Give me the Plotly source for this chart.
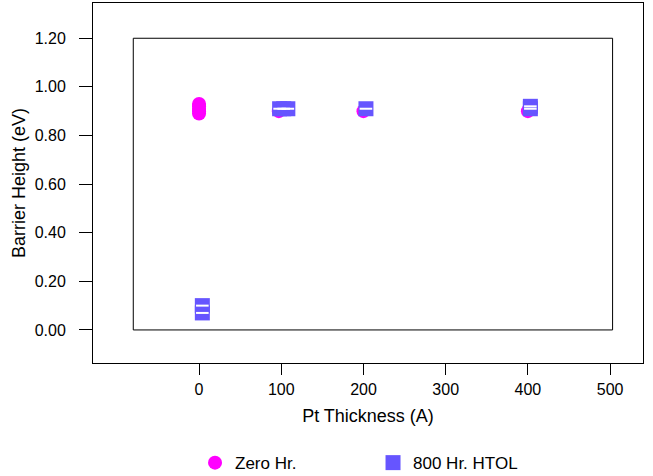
import plotly.graph_objects as go

# Data
zero_x = [0, 0, 0, 0, 0, 97, 100, 200, 400]
zero_y = [0.89, 0.90, 0.91, 0.92, 0.93, 0.90, 0.91, 0.90, 0.90]

htol_x = [4, 4, 98, 103, 108, 203, 403, 403]
htol_y = [0.07, 0.10, 0.91, 0.91, 0.91, 0.91, 0.91, 0.92]

y_ticks = [0.0, 0.2, 0.4, 0.6, 0.8, 1.0, 1.2]
x_ticks = [0, 100, 200, 300, 400, 500]

MAGENTA = "#ff00ff"
BLUE = "#6655ff"
FONT = "Liberation Sans, Arial, sans-serif"

fig = go.Figure()
fig.add_trace(go.Scatter(
    x=zero_x, y=zero_y, mode="markers", name="Zero Hr.",
    marker=dict(symbol="circle", size=14, color=MAGENTA, line=dict(width=0)),
))
fig.add_trace(go.Scatter(
    x=htol_x, y=htol_y, mode="markers", name="800 Hr. HTOL",
    legendgroup="htol",
    marker=dict(symbol="square", size=15, color=BLUE, line=dict(width=0)),
))
fig.add_trace(go.Scatter(
    x=htol_x, y=htol_y, mode="markers", name="800 Hr. HTOL",
    legendgroup="htol", showlegend=False, hoverinfo="skip",
    marker=dict(symbol="line-ew", size=9, color="white",
                line=dict(width=2, color="white")),
))

# inner frame (from y-tick range and inner x extent)
fig.add_shape(type="rect", xref="x", yref="y", x0=-80, x1=503,
              y0=y_ticks[0], y1=y_ticks[-1],
              line=dict(color="black", width=1), layer="below")

fig.update_layout(
    width=653, height=476,
    margin=dict(l=93, r=10, t=3, b=113, autoexpand=False),
    paper_bgcolor="white", plot_bgcolor="white",
    font=dict(family=FONT, size=16, color="black"),
    showlegend=True,
    legend=dict(orientation="h", x=0.1855, xanchor="left", y=-0.228, yanchor="top",
                entrywidth=133, font=dict(size=17), itemwidth=30),
)
fig.update_xaxes(
    range=[-129, 540], tickvals=x_ticks, ticks="outside", ticklen=11,
    tickcolor="black", showline=True, linecolor="black", linewidth=1,
    mirror=True, showgrid=False, zeroline=False, automargin=False,
    tickfont=dict(size=16), ticklabelstandoff=1,
    title=dict(text="Pt Thickness (A)", standoff=12, font=dict(size=18)),
)
fig.update_yaxes(
    range=[-0.136, 1.345], tickvals=y_ticks, tickformat=".2f", ticks="outside",
    ticklen=13, tickcolor="black", showline=True, linecolor="black", linewidth=1,
    mirror=True, showgrid=False, zeroline=False, ticklabelstandoff=10,
    automargin=False, tickfont=dict(size=16),
    title=dict(text="Barrier Height (eV)", standoff=4, font=dict(size=18)),
)

fig.write_html("out.html",
               config={"displayModeBar": False},
               post_script="document.body.style.margin='0';"
                           "document.body.style.overflow='hidden';")
